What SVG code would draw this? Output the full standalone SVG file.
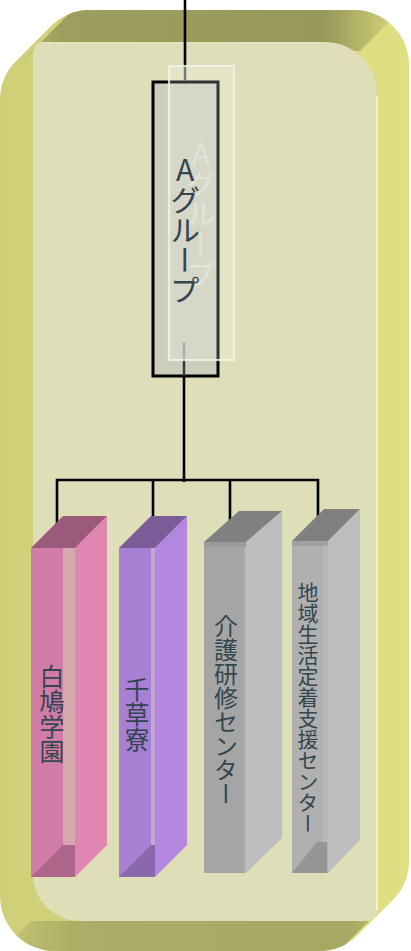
<svg xmlns="http://www.w3.org/2000/svg" width="411" height="951" viewBox="0 0 411 951">
<style>
.t{font-family:"Noto Sans CJK JP","Noto Sans",sans-serif;font-weight:400;fill:#33464f;writing-mode:vertical-rl;text-orientation:upright;}
.ln{fill:none;stroke:#000;stroke-width:2.6;}
</style>
<defs>
<clipPath id="oc"><path d="M90,10 L354,10 A55,55 0 0 1 409,65 L409,861 A55,55 0 0 1 392.9,899.9 L357.9,934.9 A55,55 0 0 1 319,951 L55,951 A55,55 0 0 1 0,896 L0,100 A55,55 0 0 1 16.1,61.1 L51.1,26.1 A55,55 0 0 1 90,10 Z"/></clipPath>
<linearGradient id="base" gradientUnits="userSpaceOnUse" x1="0" y1="0" x2="411" y2="0"><stop offset="0" stop-color="#cfcf78"/><stop offset="1" stop-color="#e0e082"/></linearGradient>
<linearGradient id="topG" gradientUnits="userSpaceOnUse" x1="20" y1="0" x2="411" y2="0"><stop offset="0" stop-color="#bcbc6e"/><stop offset="0.1" stop-color="#9e9e5e"/><stop offset="0.78" stop-color="#98985a"/><stop offset="0.92" stop-color="#c6c672"/><stop offset="1" stop-color="#dcdc80"/></linearGradient>
<linearGradient id="botG" gradientUnits="userSpaceOnUse" x1="0" y1="0" x2="411" y2="0"><stop offset="0" stop-color="#c6c672"/><stop offset="0.18" stop-color="#adad67"/><stop offset="0.85" stop-color="#a8a864"/><stop offset="0.92" stop-color="#b6b66a"/></linearGradient>
</defs>

<g id="container">
<g clip-path="url(#oc)">
<rect x="0" y="0" width="411" height="951" fill="url(#base)"/>
<polygon points="20,63 83,0 411,0 360,51 33,51" fill="url(#topG)"/>
<polygon points="31,921 369,921 330,960 -8,960" fill="url(#botG)"/>
</g>
<path d="M43,42 L325,42 A52,52 0 0 1 377,94 L377,911 A10,10 0 0 1 367,921 L80,921 A47,47 0 0 1 33,874 L33,52 A10,10 0 0 1 43,42 Z" fill="#dedeb8"/>
<path d="M40,43 L325,43" stroke="#e8e8c8" stroke-width="1.2" fill="none"/>
<path d="M377,96 L377,910" stroke="#f2f2cc" stroke-width="2" fill="none"/>
</g>

<g id="groupA-box">
<rect x="153" y="82" width="65" height="294" fill="#cdcdbc" stroke="#000" stroke-width="3"/>
</g>

<g id="connectors">
<path class="ln" d="M185,0 L185,66"/>
<path d="M185,66 L185,81" stroke="#555" stroke-width="2.4" fill="none"/>
<path d="M184,342 L184,360" stroke="#999" stroke-width="2.4" fill="none"/>
<path d="M184,360 L184,376" stroke="#333" stroke-width="2.4" fill="none"/>
<path class="ln" d="M184,377 L184,482"/>
<path class="ln" d="M57,531 L57,480 L318,480 L318,527"/>
<path class="ln" d="M153,480 L153,529"/>
<path class="ln" d="M230,480 L230,528"/>
</g>

<g id="groupA">
<rect x="169" y="66" width="65" height="294" fill="#ffffff" fill-opacity="0.2" stroke="#f4f4ee" stroke-opacity="0.8" stroke-width="2.2"/>
<text class="t" x="201" y="214" font-size="30" text-anchor="middle" style="fill:#ffffff;fill-opacity:0.3">Aグループ</text>
<text class="t" x="185" y="230" font-size="30" text-anchor="middle">Aグループ</text>
</g>

<g id="hakkyo">
<polygon points="75,548 107,516 107,845 75,877" fill="#df86b3"/>
<polygon points="31,548 63,516 107,516 75,548" fill="#9b5a7b"/>
<rect x="31" y="548" width="44" height="329" fill="#d07ca7"/>
<rect x="63" y="548" width="12" height="297" fill="#d5a8ab"/>
<polygon points="31,877 63,845 75,845 75,877" fill="#ad6689"/>
<text class="t" x="52" y="714" font-size="25" text-anchor="middle">白鳩学園</text>
</g>

<g id="chigusa">
<polygon points="155,548 187,516 187,845 155,877" fill="#b487e0"/>
<polygon points="119,548 151,516 187,516 155,548" fill="#7a5c98"/>
<rect x="119" y="548" width="36" height="329" fill="#a77fd3"/>
<rect x="151" y="548" width="4" height="297" fill="#c6a6d2"/>
<polygon points="119,877 151,845 155,845 155,877" fill="#8a68ae"/>
<text class="t" x="137" y="714" font-size="25" text-anchor="middle">千草寮</text>
</g>

<g id="kaigo">
<polygon points="246,542 282,511 282,838 246,873" fill="#bebebe"/>
<polygon points="204,542 239,511 282,511 246,542" fill="#808080"/>
<rect x="204" y="542" width="42" height="331" fill="#a5a5a5"/>
<rect x="204" y="542" width="42" height="5" fill="#9a9a9a"/>
<rect x="244" y="547" width="2" height="326" fill="#b4b4b4"/>
<text class="t" x="226" y="710" font-size="24" text-anchor="middle">介護研修センター</text>
</g>

<g id="chiiki">
<polygon points="328,541 360,509 360,840 328,873" fill="#bebebe"/>
<polygon points="292,541 324,509 360,509 328,541" fill="#808080"/>
<rect x="292" y="541" width="36" height="332" fill="#b0b0b0"/>
<rect x="292" y="541" width="36" height="5" fill="#a2a2a2"/>
<rect x="323" y="546" width="5" height="296" fill="#b8b8b8"/>
<polygon points="292,873 317,842 327,842 327,873" fill="#959595"/>
<text class="t" x="308" y="708" font-size="21" text-anchor="middle">地域生活定着支援センター</text>
</g>
</svg>
